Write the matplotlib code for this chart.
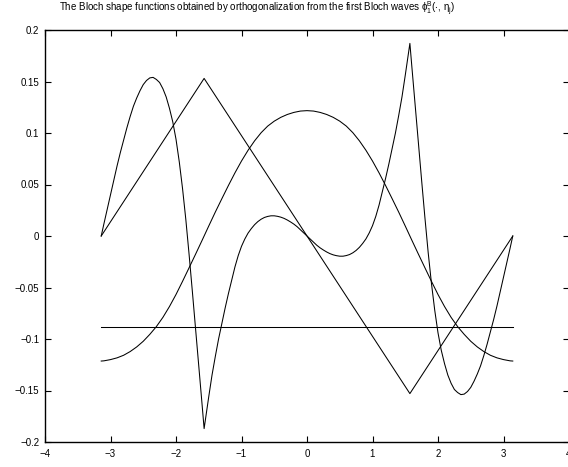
import numpy as np
import matplotlib
matplotlib.use("Agg")
import matplotlib.pyplot as plt

plt.rcParams.update({
    "font.family": ["Liberation Sans", "DejaVu Sans"],
    "font.size": 7,
    "mathtext.fontset": "custom",
    "mathtext.rm": "Liberation Sans",
    "mathtext.it": "Liberation Sans",
    "mathtext.default": "regular",
    "axes.unicode_minus": True,
})

# constant shape function
flat_x = [-3.1416, 3.1416]
flat_y = [-0.0887, -0.0887]

# hat (piecewise linear) shape function
hat_x = [-3.1416, -1.5708, 1.5708, 3.1416]
hat_y = [0.0, 0.153, -0.153, 0.0]

# cosine-like shape function
cos_x = [-3.1416, -3.1, -3.0, -2.9, -2.8, -2.7, -2.6, -2.5, -2.4, -2.3, -2.2,
         -2.1, -2.0, -1.9, -1.8, -1.7, -1.6, -1.5, -1.4, -1.3, -1.2, -1.1,
         -1.0, -0.9, -0.8, -0.7, -0.6, -0.5, -0.4, -0.3, -0.2, -0.1, 0.0,
         0.1, 0.2, 0.3, 0.4, 0.5, 0.6, 0.7, 0.8, 0.9, 1.0, 1.1, 1.2, 1.3,
         1.4, 1.5, 1.6, 1.7, 1.8, 1.9, 2.0, 2.1, 2.2, 2.3, 2.4, 2.5, 2.6,
         2.7, 2.8, 2.9, 3.0, 3.1, 3.1416]
cos_y = [-0.1214, -0.1212, -0.1200, -0.1183, -0.1158, -0.1122, -0.1077,
         -0.1022, -0.0955, -0.0880, -0.0790, -0.0685, -0.0568, -0.0440,
         -0.0308, -0.0175, -0.0040, 0.0097, 0.0232, 0.0362, 0.0490, 0.0613,
         0.0728, 0.0832, 0.0924, 0.1003, 0.1067, 0.1115, 0.1152, 0.1180,
         0.1200, 0.1213, 0.1217,
         0.1213, 0.1200, 0.1180, 0.1152, 0.1115, 0.1067, 0.1003, 0.0924,
         0.0832, 0.0728, 0.0613, 0.0490, 0.0362, 0.0232, 0.0097, -0.0040,
         -0.0175, -0.0308, -0.0440, -0.0568, -0.0685, -0.0790, -0.0880,
         -0.0955, -0.1022, -0.1077, -0.1122, -0.1158, -0.1183, -0.1200,
         -0.1212, -0.1214]

# oscillating shape function with kinks at +-pi/2
osc_x = [-3.1416, -3.10, -3.05, -3.00, -2.95, -2.90, -2.85, -2.80, -2.75,
         -2.70, -2.65, -2.60, -2.55, -2.50, -2.45, -2.40, -2.35, -2.30, -2.25,
         -2.20, -2.15, -2.10, -2.05, -2.00, -1.95, -1.90, -1.85, -1.80, -1.75,
         -1.70, -1.65, -1.60, -1.5708,
         -1.50, -1.45, -1.40, -1.35, -1.30, -1.25, -1.20, -1.15, -1.10, -1.05,
         -1.00, -0.95, -0.90, -0.85, -0.80, -0.75, -0.70, -0.65, -0.60, -0.55,
         -0.50, -0.45, -0.40, -0.35, -0.30, -0.25, -0.20, -0.15, -0.10, -0.05,
         0.0,
         0.05, 0.10, 0.15, 0.20, 0.25, 0.30, 0.35, 0.40, 0.45, 0.50, 0.55,
         0.60, 0.65, 0.70, 0.75, 0.80, 0.85, 0.90, 0.95, 1.00, 1.05, 1.10,
         1.15, 1.20, 1.25, 1.30, 1.35, 1.40, 1.45, 1.50, 1.5708,
         1.60, 1.65, 1.70, 1.75, 1.80, 1.85, 1.90, 1.95, 2.00, 2.05, 2.10,
         2.15, 2.20, 2.25, 2.30, 2.35, 2.40, 2.45, 2.50, 2.55, 2.60, 2.65,
         2.70, 2.75, 2.80, 2.85, 2.90, 2.95, 3.00, 3.05, 3.10, 3.1416]
osc_y = [0.0, 0.012, 0.026, 0.040, 0.054, 0.068, 0.081, 0.093, 0.105,
         0.116, 0.126, 0.134, 0.141, 0.147, 0.151, 0.1535, 0.154, 0.152, 0.149,
         0.143, 0.135, 0.124, 0.111, 0.094, 0.072, 0.046, 0.016, -0.018,
         -0.054, -0.091, -0.128, -0.165, -0.187,
         -0.156, -0.135, -0.117, -0.100, -0.085, -0.070, -0.056, -0.043,
         -0.030, -0.019, -0.010, -0.003, 0.0028, 0.0072, 0.0110, 0.0140,
         0.0163, 0.0180, 0.0190, 0.0196, 0.0196, 0.0191, 0.0183, 0.0171,
         0.0155, 0.0136, 0.0115, 0.009, 0.006, 0.003,
         0.0,
         -0.003, -0.006, -0.009, -0.0115, -0.0136, -0.0155, -0.0171, -0.0183,
         -0.0191, -0.0196, -0.0196, -0.0190, -0.0180, -0.0163, -0.0140,
         -0.0110, -0.0072, -0.0028, 0.003, 0.010, 0.019, 0.030, 0.043, 0.056,
         0.070, 0.085, 0.100, 0.117, 0.135, 0.156, 0.187,
         0.165, 0.128, 0.091, 0.054, 0.018, -0.016, -0.046, -0.072, -0.094,
         -0.111, -0.124, -0.135, -0.143, -0.149, -0.152, -0.154, -0.1535,
         -0.151, -0.147, -0.141, -0.134, -0.126, -0.116, -0.105, -0.093,
         -0.081, -0.068, -0.054, -0.040, -0.026, -0.012, 0.0]

x_ticks = [-4, -3, -2, -1, 0, 1, 2, 3, 4]
y_ticks = [-0.2, -0.15, -0.1, -0.05, 0, 0.05, 0.1, 0.15, 0.2]

TITLE = ("The Bloch shape functions obtained by orthogonalization "
         "from the first Bloch waves " + r"$\phi_1^B(\cdot,\, \eta_j)$")

fig = plt.figure(figsize=(5.68, 4.67), dpi=100)
ax = fig.add_axes([45 / 568, 25 / 467, 524 / 568, 412 / 467])

for xs, ys in [(flat_x, flat_y), (hat_x, hat_y), (cos_x, cos_y), (osc_x, osc_y)]:
    ax.plot(xs, ys, color="black", linewidth=0.75)

ax.set_xlim(-4, 4)
ax.set_ylim(-0.2, 0.2)
ax.set_xticks(x_ticks)
ax.set_yticks(y_ticks)
ax.set_xticklabels([f"{t:g}".replace("-", "\u2212") for t in x_ticks])
ax.set_yticklabels([f"{t:g}".replace("-", "\u2212") for t in y_ticks])
ax.tick_params(direction="in", length=4, width=0.8, top=True, right=True,
               labelsize=7)
ax.tick_params(axis="x", pad=5)
ax.tick_params(axis="y", pad=4)
for s in ax.spines.values():
    s.set_linewidth(1.0)

fig.text(257 / 568, 1 - 9 / 467, TITLE, ha="center", va="center", fontsize=7)

fig.savefig("out.png", dpi=100)
